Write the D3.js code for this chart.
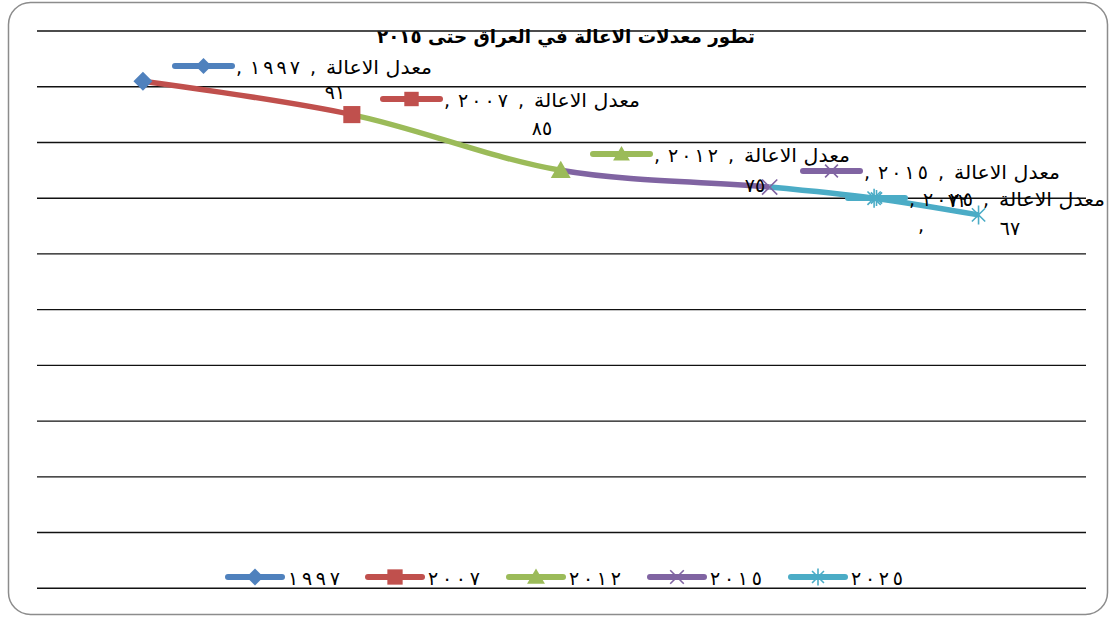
<!DOCTYPE html>
<html><head><meta charset="utf-8">
<script src="https://cdn.jsdelivr.net/npm/d3@7/dist/d3.min.js"></script>
<style>html,body{margin:0;padding:0;background:#fff;}svg{display:block;}</style>
</head><body>
<svg id="chart" width="1110" height="617"></svg>
<script>
// ---- data ----
const chartTitle = "تطور معدلات الاعالة في العراق حتى ٢٠١٥";
const categoryName = "معدل الاعالة";
const seriesNames = ["١٩٩٧", "٢٠٠٧", "٢٠١٢", "٢٠١٥", "٢٠٢٥"];
const pointX = [1, 2, 3, 4, 4.5, 5];          // category positions of the points
const rates = [91, 85, 75, 72, 70, 67];       // dependency rate values
const rateLabels = ["٩١", "٨٥", "٧٥", "٧٢", "٧٠", "٦٧"];
const seriesPoints = [[0], [0, 1], [1, 2], [2, 3], [3, 4, 5]]; // points each series spans
const seriesMarkers = [[0], [1], [2], [3], [4, 5]];
const yTicks = [0, 10, 20, 30, 40, 50, 60, 70, 80, 90, 100];
const colors = ["#4F81BD", "#C0504D", "#9BBB59", "#8064A2", "#4BACC6"];
const markerTypes = ["diamond", "square", "triangle", "x", "star"];

// ---- layout ----
const svg = d3.select("#chart");
const x = d3.scaleLinear().domain([0.5, 5.5]).range([38.5, 1083]);
const y = d3.scaleLinear().domain([0, 100]).range([588.3, 31]);
const AR = "'DejaVu Sans', 'Noto Sans', sans-serif";

// frame
svg.append("rect").attr("x", 8.5).attr("y", 2.5).attr("width", 1099).attr("height", 612)
  .attr("rx", 22).attr("fill", "#fff").attr("stroke", "#8c8c8c").attr("stroke-width", 1.5);

// gridlines
svg.append("g").selectAll("line").data(yTicks).join("line")
  .attr("x1", 37).attr("x2", 1086)
  .attr("y1", d => y(d)).attr("y2", d => y(d))
  .attr("stroke", "#111").attr("stroke-width", 1.4);

// marker drawing
function marker(g, type, cx, cy, s, color) {
  const h = s / 2;
  if (type === "diamond") {
    g.append("path").attr("d", `M${cx},${cy - h}L${cx + h},${cy}L${cx},${cy + h}L${cx - h},${cy}Z`).attr("fill", color);
  } else if (type === "square") {
    g.append("rect").attr("x", cx - h * 0.9).attr("y", cy - h * 0.9).attr("width", s * 0.9).attr("height", s * 0.9).attr("fill", color);
  } else if (type === "triangle") {
    g.append("path").attr("d", `M${cx},${cy - h}L${cx + h * 1.05},${cy + h * 0.8}L${cx - h * 1.05},${cy + h * 0.8}Z`).attr("fill", color);
  } else if (type === "x") {
    const k = h * 0.8;
    g.append("path").attr("d", `M${cx - k},${cy - k}L${cx + k},${cy + k}M${cx - k},${cy + k}L${cx + k},${cy - k}`)
      .attr("stroke", color).attr("stroke-width", 1.6).attr("fill", "none");
  } else if (type === "star") {
    const k = h * 0.7;
    g.append("path").attr("d", `M${cx - k},${cy - k}L${cx + k},${cy + k}M${cx - k},${cy + k}L${cx + k},${cy - k}M${cx},${cy - h}L${cx},${cy + h}`)
      .attr("stroke", color).attr("stroke-width", 1.6).attr("fill", "none");
  }
}

// smooth line through all points, clipped per series
const pts = pointX.map((px, i) => [x(px), y(rates[i])]);
const lineGen = d3.line().curve(d3.curveCatmullRom.alpha(0.5));
const defs = svg.append("defs");
const linesG = svg.append("g");
seriesPoints.forEach((idx, si) => {
  if (idx.length < 2) return;
  const x0 = x(pointX[idx[0]]), x1 = x(pointX[idx[idx.length - 1]]);
  defs.append("clipPath").attr("id", "clip" + si).append("rect")
    .attr("x", x0).attr("y", 0).attr("width", x1 - x0).attr("height", 617);
  linesG.append("path").attr("d", lineGen(pts)).attr("fill", "none")
    .attr("stroke", colors[si]).attr("stroke-width", 5.5).attr("stroke-linejoin", "round")
    .attr("clip-path", `url(#clip${si})`);
});

// data labels
const labelLayout = [
  { series: 0, point: 0, right: 432, y: 74, vx: 335, vy: 99 },
  { series: 1, point: 1, right: 640, y: 107, vx: 542, vy: 135 },
  { series: 2, point: 2, right: 850, y: 162, vx: 755, vy: 192 },
  { series: 3, point: 3, right: 1060, y: 179, vx: 958, vy: 207 },
  { series: 4, point: 5, right: 1105, y: 206, vx: 1010, vy: 235 }
];
const labelsG = svg.append("g");
function drawKey(g, si, xl, yc, len, ms) {
  g.append("line").attr("x1", xl).attr("x2", xl + len).attr("y1", yc).attr("y2", yc)
    .attr("stroke", colors[si]).attr("stroke-width", 6).attr("stroke-linecap", "round");
  marker(g, markerTypes[si], xl + len / 2, yc, ms, colors[si]);
}
function txt(g, xx, yy, s, anchor) {
  return g.append("text").attr("x", xx).attr("y", yy).attr("text-anchor", anchor || "start")
    .attr("font-family", AR).attr("font-size", 19).attr("fill", "#000").text(s);
}
labelLayout.forEach(L => {
  const g = labelsG.append("g");
  const AL = L.right - 107;
  txt(g, L.right, L.y, categoryName, "end")
    .attr("textLength", 106).attr("lengthAdjust", "spacingAndGlyphs");
  txt(g, AL - 12, L.y, ",", "middle");
  txt(g, AL - 75, L.y, seriesNames[L.series])
    .attr("textLength", 50).attr("lengthAdjust", "spacing");
  txt(g, AL - 86, L.y, ",", "middle");
  drawKey(g, L.series, AL - 150, L.y - 8, 57, 16);
  txt(g, L.vx, L.vy, rateLabels[L.point], "middle").attr("letter-spacing", 2);
});
// stray separator of the hidden 2020 point label
txt(labelsG, 921, 232, ",", "middle");

// markers on top
const markG = svg.append("g");
seriesMarkers.forEach((idx, si) => {
  idx.forEach(i => marker(markG, markerTypes[si], x(pointX[i]), y(rates[i]), 19, colors[si]));
});

// title
svg.append("text").attr("x", 566).attr("y", 43).attr("text-anchor", "middle")
  .attr("font-family", AR).attr("font-weight", "bold").attr("font-size", 18).attr("fill", "#000")
  .attr("textLength", 378).attr("lengthAdjust", "spacingAndGlyphs")
  .text(chartTitle);

// legend
const legendX = [228, 368, 509, 650, 791];
const legG = svg.append("g");
seriesNames.forEach((name, si) => {
  drawKey(legG, si, legendX[si], 577, 54, 17);
  legG.append("text").attr("x", legendX[si] + 60).attr("y", 585).attr("font-family", AR)
    .attr("font-size", 19).attr("textLength", 52).attr("lengthAdjust", "spacing")
    .attr("fill", "#000").text(name);
});
</script>
</body></html>
